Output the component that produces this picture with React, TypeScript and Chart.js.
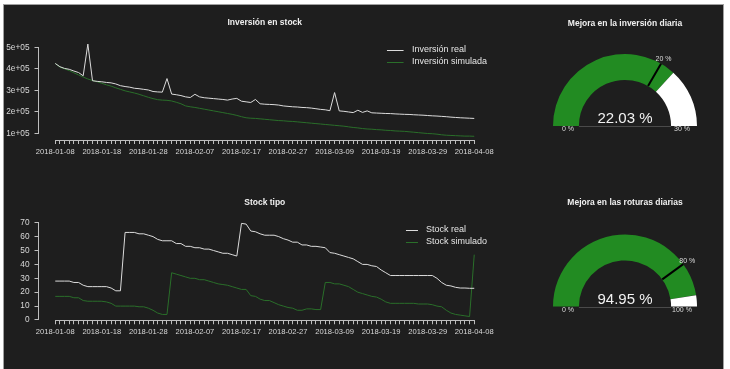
import React, { useEffect, useRef } from 'react';
import { Chart, registerables } from 'chart.js';

Chart.register(...registerables);
Chart.defaults.font.family = "'Liberation Sans', Arial, sans-serif";

// ---------- data ----------
const startDate = '2018-01-08';
const dayCount = 91;
const xTickLabels = ['2018-01-08', '2018-01-18', '2018-01-28', '2018-02-07', '2018-02-17', '2018-02-27', '2018-03-09', '2018-03-19', '2018-03-29', '2018-04-08'];

const inversionReal = [
  425000, 410000, 402000, 398000, 390000, 383000, 368000, 515000, 345000, 342000,
  340000, 337000, 335000, 330000, 322000, 318000, 315000, 310000, 308000, 305000,
  302000, 295000, 293000, 292000, 355000, 283000, 280000, 276000, 270000, 267000,
  282000, 270000, 266000, 264000, 262000, 260000, 258000, 255000, 260000, 263000,
  250000, 247000, 244000, 258000, 238000, 236000, 235000, 234000, 232000, 228000,
  226000, 224000, 223000, 221000, 220000, 218000, 215000, 212000, 210000, 206000,
  290000, 205000, 203000, 200000, 197000, 208000, 198000, 205000, 196000, 195000,
  194000, 193000, 192500, 191000, 190000, 189000, 188500, 187000, 186000, 185000,
  183500, 182000, 181000, 179500, 178000, 176000, 174500, 173000, 172000, 171000,
  170000,
];
const inversionSimulada = [
  425000, 408000, 400000, 392000, 382000, 372000, 362000, 353000, 346000, 340000,
  333000, 326000, 320000, 312000, 305000, 298000, 293000, 288000, 282000, 275000,
  268000, 262000, 257000, 255000, 254000, 251000, 245000, 238000, 228000, 224000,
  221000, 217000, 213000, 209000, 205000, 201000, 197000, 193000, 189000, 184000,
  178000, 173000, 171000, 170000, 168000, 166000, 164000, 162000, 160000, 159000,
  157000, 156000, 154000, 152000, 150000, 148000, 146000, 144000, 142000, 140000,
  138000, 136000, 134000, 131000, 128000, 126000, 123000, 121000, 120000, 118000,
  117000, 115000, 114000, 112000, 111000, 110000, 108000, 106000, 104000, 102000,
  100000, 99000, 97000, 94000, 92000, 91000, 90000, 89000, 88000, 88000,
  87000,
];
const invYTicks = [100000, 200000, 300000, 400000, 500000];
const invYTickLabels = ['1e+05', '2e+05', '3e+05', '4e+05', '5e+05'];

const stockReal = [
  28, 28, 28, 28, 27, 27, 25, 24, 24, 24,
  24, 24, 23, 21, 21, 63, 63, 63, 62, 62,
  61, 60, 58, 57, 57, 57, 55, 55, 53, 53,
  52, 52, 51, 51, 50, 49, 48, 48, 47, 46,
  69.5, 69, 64, 63.5, 62, 61, 61, 61, 60, 58.5,
  57.5, 56, 56, 54, 54, 53, 53, 52.5, 52, 48.5,
  48, 47, 46, 45, 44, 42, 40, 40, 39, 38.5,
  36, 34, 32, 32, 32, 32, 32, 32, 32, 32,
  32, 32, 30, 27, 25, 24.5, 23.5, 23, 23, 22.8,
  22.8,
];
const stockSimulado = [
  17, 17, 17, 17, 16, 16, 14, 13.5, 13.5, 13.5,
  13.5, 13, 12, 10, 10, 10, 10, 10, 9.5, 9.5,
  8.5, 7, 5, 4, 4, 34, 33, 32, 31, 30,
  30, 29, 29, 28, 27, 26, 25.5, 25, 24, 23,
  22, 22, 17.5, 17, 15, 14, 14, 12.5, 11, 10,
  9, 8.5, 7, 7, 8, 8, 7.5, 7.5, 27, 27,
  26, 26, 25, 24, 22, 20, 19, 18, 17, 16.5,
  15, 13, 12, 12, 12, 12, 12, 12, 11.5, 11.5,
  11.5, 11, 10, 9.5, 7, 5, 4, 3.5, 3, 2.5,
  47,
];
const stockYTicks = [0, 10, 20, 30, 40, 50, 60, 70];
const stockYTickLabels = ['0', '10', '20', '30', '40', '50', '60', '70'];

const gaugeTitles = ['Mejora en la inversión diaria', 'Mejora en las roturas diarias'];
const gaugeValues = [22.03, 94.95];
const gaugeMax = [30, 100];
const gaugeThreshold = [20, 80];

// ---------- helpers ----------
const BG = '#1e1e1e';
const GREEN = '#228b22';
const LINE_GREEN = '#2a6f2a';
const LINE_WHITE = '#dcdcdc';
const AXIS = '#bdbdbd';
const TEXT = '#d8d8d8';

function buildDates(start: string, n: number): string[] {
  const out: string[] = [];
  const d0 = new Date(start + 'T00:00:00Z');
  for (let i = 0; i < n; i++) {
    const d = new Date(d0.getTime() + i * 86400000);
    out.push(d.toISOString().slice(0, 10));
  }
  return out;
}
const dates = buildDates(startDate, dayCount);

const rAxesPlugin = {
  id: 'rAxes',
  afterDraw(chart: any) {
    const { ctx } = chart;
    const xs = chart.scales.x;
    const ys = chart.scales.y;
    ctx.save();
    ctx.strokeStyle = AXIS;
    ctx.lineWidth = 1;
    const yt = ys.ticks;
    const ya = ys.getPixelForValue(yt[0].value);
    const yb = ys.getPixelForValue(yt[yt.length - 1].value);
    const ax = Math.round(ys.right) - 0.5;
    ctx.beginPath();
    ctx.moveTo(ax, ya);
    ctx.lineTo(ax, yb);
    ctx.stroke();
    const xt = xs.ticks;
    const xa = xs.getPixelForValue(xt[0].value);
    const xb = xs.getPixelForValue(xt[xt.length - 1].value);
    const ay = Math.round(xs.top) + 0.5;
    ctx.beginPath();
    ctx.moveTo(xa, ay);
    ctx.lineTo(xb, ay);
    ctx.stroke();
    ctx.restore();
  },
};

const rLegendPlugin = {
  id: 'rLegend',
  afterDraw(chart: any, _args: any, opts: any) {
    const { ctx } = chart;
    const ds = chart.data.datasets;
    ctx.save();
    ctx.font = `${opts.fontSize}px 'Liberation Sans', Arial, sans-serif`;
    let maxW = 0;
    ds.forEach((d: any) => { maxW = Math.max(maxW, ctx.measureText(d.label).width); });
    const tx = opts.right - maxW;
    ds.forEach((d: any, i: number) => {
      const y = opts.top + i * opts.rowH;
      ctx.strokeStyle = d.borderColor;
      ctx.lineWidth = 1;
      ctx.beginPath();
      ctx.moveTo(tx - opts.gap - opts.sampleLen, Math.round(y) + 0.5);
      ctx.lineTo(tx - opts.gap, Math.round(y) + 0.5);
      ctx.stroke();
      ctx.fillStyle = '#e6e6e6';
      ctx.textAlign = 'left';
      ctx.textBaseline = 'middle';
      ctx.fillText(d.label, tx, y);
    });
    ctx.restore();
  },
};

const gaugePlugin = {
  id: 'gauge',
  afterDraw(chart: any, _args: any, opts: any) {
    const { ctx } = chart;
    const arc: any = chart.getDatasetMeta(0).data[0];
    const { x, y, innerRadius: ri, outerRadius: ro, startAngle } = arc;
    ctx.save();
    // base line
    ctx.strokeStyle = '#4a4a4a';
    ctx.lineWidth = 1;
    ctx.beginPath();
    ctx.moveTo(x - ri, Math.round(y) + 0.5);
    ctx.lineTo(x + ri, Math.round(y) + 0.5);
    ctx.stroke();
    // threshold tick
    const ang = startAngle + (opts.threshold / opts.max) * Math.PI;
    ctx.strokeStyle = '#000000';
    ctx.lineWidth = 2;
    ctx.beginPath();
    ctx.moveTo(x + ri * Math.cos(ang), y + ri * Math.sin(ang));
    ctx.lineTo(x + ro * Math.cos(ang), y + ro * Math.sin(ang));
    ctx.stroke();
    // labels
    ctx.fillStyle = '#dcdcdc';
    ctx.font = "7px 'Liberation Sans', Arial, sans-serif";
    ctx.textAlign = 'center';
    ctx.textBaseline = 'middle';
    ctx.fillText(`${opts.threshold} %`, x + (ro + 5) * Math.cos(ang), y + (ro + 5) * Math.sin(ang));
    ctx.fillText('0 %', x - 57, y + 3.5);
    ctx.fillText(`${opts.max} %`, x + 57, y + 3.5);
    // value
    ctx.fillStyle = '#f2f2f2';
    ctx.font = "15px 'Liberation Sans', Arial, sans-serif";
    ctx.textBaseline = 'alphabetic';
    ctx.fillText(`${opts.value.toFixed(2)} %`, x, y - 3);
    ctx.restore();
  },
};

function lineConfig(p: {
  title: string;
  series: { label: string; data: number[]; color: string }[];
  yTicks: number[];
  yTickLabels: string[];
  titlePadBottom: number;
  xHeight: number;
  legend: { sampleLen: number; gap: number };
}): any {
  const all = p.series.flatMap((s) => s.data);
  const lo = Math.min(...all);
  const hi = Math.max(...all);
  const yPad = 0.04 * (hi - lo);
  const xPad = 0.04 * (dayCount - 1);
  return {
    type: 'line',
    data: {
      datasets: p.series.map((s) => ({
        label: s.label,
        data: s.data.map((v, i) => ({ x: i, y: v })),
        borderColor: s.color,
        borderWidth: 1,
        pointRadius: 0,
        tension: 0,
        fill: false,
      })),
    },
    options: {
      animation: false,
      responsive: false,
      events: [],
      layout: { padding: { left: 0, right: 9, top: 0, bottom: 0 } },
      plugins: {
        legend: { display: false },
        tooltip: { enabled: false },
        title: {
          display: true,
          text: p.title,
          fullSize: false,
          color: '#f0f0f0',
          font: { size: 8.5, weight: 'bold' },
          padding: { top: 17.6, bottom: p.titlePadBottom },
        },
        rLegend: { right: 487, top: 50, rowH: 11.7, sampleLen: p.legend.sampleLen, gap: p.legend.gap, fontSize: 9 },
      },
      scales: {
        x: {
          type: 'linear',
          bounds: 'data',
          min: -xPad,
          max: dayCount - 1 + xPad,
          afterBuildTicks: (s: any) => { s.ticks = dates.map((_, i) => ({ value: i })); },
          afterFit: (s: any) => { s.height = p.xHeight; },
          grid: { drawOnChartArea: false, drawTicks: true, tickLength: 4, tickColor: AXIS, color: AXIS },
          border: { display: false },
          ticks: {
            autoSkip: false,
            maxRotation: 0,
            minRotation: 0,
            padding: 3,
            color: TEXT,
            font: { size: 7.6 },
            callback: (v: number) => (xTickLabels.includes(dates[v]) ? dates[v] : ''),
          },
        },
        y: {
          type: 'linear',
          bounds: 'data',
          min: lo - yPad,
          max: hi + yPad,
          afterBuildTicks: (s: any) => { s.ticks = p.yTicks.map((v) => ({ value: v })); },
          afterFit: (s: any) => { s.width = 38.5; },
          grid: { drawOnChartArea: false, drawTicks: true, tickLength: 4, tickColor: AXIS, color: AXIS },
          border: { display: false },
          ticks: {
            padding: 5,
            color: TEXT,
            font: { size: 8.3 },
            callback: (v: number) => p.yTickLabels[p.yTicks.indexOf(v)] ?? '',
          },
        },
      },
    },
    plugins: [rAxesPlugin, rLegendPlugin],
  };
}

function gaugeConfig(i: number, padTop: number, padBottom: number, layoutBottom: number): any {
  return {
    type: 'doughnut',
    data: {
      labels: ['valor', 'resto'],
      datasets: [{
        data: [gaugeValues[i], gaugeMax[i] - gaugeValues[i]],
        backgroundColor: [GREEN, '#ffffff'],
        borderWidth: 0,
        hoverOffset: 0,
        offset: 0,
        spacing: 0,
      }],
    },
    options: {
      animation: false,
      responsive: false,
      events: [],
      circumference: 180,
      rotation: -90,
      cutout: '64%',
      layout: { padding: { left: 13, right: 23, top: 0, bottom: layoutBottom } },
      plugins: {
        legend: { display: false },
        tooltip: { enabled: false },
        title: {
          display: true,
          text: gaugeTitles[i],
          fullSize: false,
          color: '#f0f0f0',
          font: { size: 8.5, weight: 'bold' },
          padding: { top: padTop, bottom: padBottom },
        },
        gauge: { value: gaugeValues[i], max: gaugeMax[i], threshold: gaugeThreshold[i] },
      },
    },
    plugins: [gaugePlugin],
  };
}

function ChartCanvas({ config, left, top, width, height }: { config: () => any; left: number; top: number; width: number; height: number }) {
  const ref = useRef<HTMLCanvasElement>(null);
  useEffect(() => {
    if (!ref.current) return;
    const chart = new Chart(ref.current, config());
    return () => chart.destroy();
  }, []);
  return (
    <canvas
      ref={ref}
      width={width}
      height={height}
      style={{ position: 'absolute', left, top, width, height }}
    />
  );
}

export default function App() {
  return (
    <div style={{ position: 'absolute', left: 0, top: 0, width: 730, height: 369, background: '#ffffff', overflow: 'hidden' }}>
      <div
        style={{
          position: 'absolute', left: 3, top: 4, width: 721, height: 370, background: BG,
          borderTop: '1px solid #a0a0a0', borderLeft: '1px solid #a0a0a0', borderRight: '1px solid #a0a0a0',
          boxSizing: 'border-box',
        }}
      />
      <ChartCanvas
        left={0} top={0} width={500} height={185}
        config={() => lineConfig({
          title: 'Inversión en stock',
          series: [
            { label: 'Inversión real', data: inversionReal, color: LINE_WHITE },
            { label: 'Inversión simulada', data: inversionSimulada, color: LINE_GREEN },
          ],
          yTicks: invYTicks,
          yTickLabels: invYTickLabels,
          titlePadBottom: 12.6,
          xHeight: 45,
          legend: { sampleLen: 16.6, gap: 8.4 },
        })}
      />
      <ChartCanvas
        left={0} top={180} width={500} height={185}
        config={() => lineConfig({
          title: 'Stock tipo',
          series: [
            { label: 'Stock real', data: stockReal, color: LINE_WHITE },
            { label: 'Stock simulado', data: stockSimulado, color: LINE_GREEN },
          ],
          yTicks: stockYTicks,
          yTickLabels: stockYTickLabels,
          titlePadBottom: 11.87,
          xHeight: 44.75,
          legend: { sampleLen: 12, gap: 8 },
        })}
      />
      <ChartCanvas left={540} top={0} width={180} height={180} config={() => gaugeConfig(0, 18.2, 25.6, 54)} />
      <ChartCanvas left={540} top={180} width={180} height={180} config={() => gaugeConfig(1, 17.6, 26.7, 53.5)} />
    </div>
  );
}
